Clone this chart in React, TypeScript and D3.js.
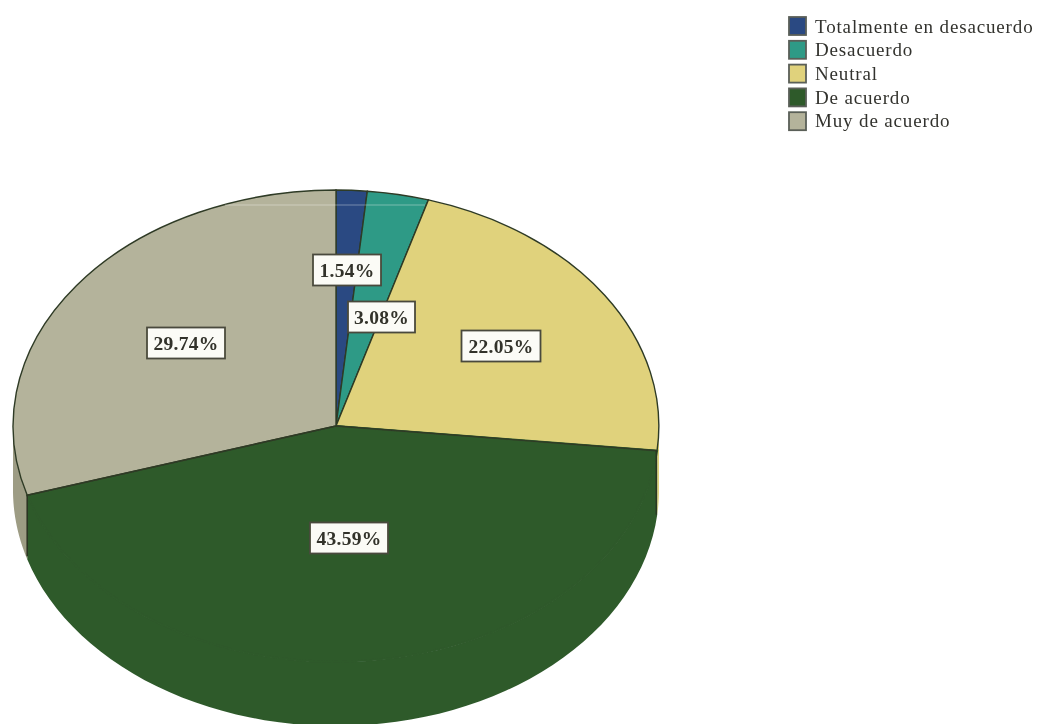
import React from "react";
import * as d3 from "d3";

const categories = ["Totalmente en desacuerdo", "Desacuerdo", "Neutral", "De acuerdo", "Muy de acuerdo"];
const percentages = [1.54, 3.08, 22.05, 43.59, 29.74];
const colors = ["#2c4a82", "#2f9a86", "#e0d27c", "#2f5a2c", "#b4b39b"];
const wallColors = ["#2c4a82", "#2f9a86", "#e0d27c", "#2f5a2c", "#9d9c84"];
const labelCenters: [number, number][] = [[347, 270], [381.5, 317], [501, 346], [349, 538], [186, 343]];
const labelWidths = [68, 67, 79, 78, 78];

const W = 1050, H = 724;
const cx = 336, cy = 426, rx = 323, ry = 236, depth = 64;
const FONT = "'Liberation Serif', 'DejaVu Serif', serif";

const pieGen = d3.pie<number>().sort(null).value((d) => d);
const arcs = pieGen(percentages);
const unitArc = d3.arc<any>().innerRadius(0).outerRadius(1);

const sx = d3.scaleLinear().domain([-1, 1]).range([cx - rx, cx + rx]);
const sy = d3.scaleLinear().domain([-1, 1]).range([cy - ry, cy + ry]);
const px = (a: number) => sx(Math.sin(a));
const py = (a: number) => sy(-Math.cos(a));

function wallPath(a0: number, a1: number) {
  const lo = Math.max(a0, Math.PI / 2);
  const hi = Math.min(a1, (3 * Math.PI) / 2);
  if (hi <= lo) return "";
  const angles = d3.range(0, 61).map((i) => lo + ((hi - lo) * i) / 60);
  const top = angles.map((a) => [px(a), py(a)] as [number, number]);
  const bottom = angles.slice().reverse().map((a) => [px(a), py(a) + depth] as [number, number]);
  return d3.line()([...top, ...bottom]) + "Z";
}

export default function App() {
  const greenStart = arcs[3].startAngle;
  const boundary = arcs[4].startAngle;
  return (
    <svg width={W} height={H} style={{ position: "absolute", left: 0, top: 0, background: "#fff" }}>
      <defs>
        <filter id="soft" x="-2%" y="-2%" width="104%" height="104%">
          <feGaussianBlur stdDeviation="0.55" />
        </filter>
      </defs>
      <g filter="url(#soft)">
        {arcs.map((a, i) => (
          <path key={"w" + i} d={wallPath(a.startAngle, a.endAngle)} fill={wallColors[i]} />
        ))}
        <g transform={`translate(${cx},${cy}) scale(${rx},${ry})`}>
          {arcs.map((a, i) => (
            <path
              key={i}
              d={unitArc(a) as string}
              fill={colors[i]}
              stroke={i === 3 ? colors[3] : "#2e3a25"}
              strokeWidth={i === 3 ? 2 : 1.4}
              vectorEffect="non-scaling-stroke"
            />
          ))}
        </g>
        <line x1={cx} y1={cy} x2={px(greenStart)} y2={py(greenStart)} stroke="#2e3a25" strokeWidth={1.4} />
        <line x1={cx} y1={cy} x2={px(boundary)} y2={py(boundary)} stroke="#2e3a25" strokeWidth={1.4} />
        <line x1={px(boundary)} y1={py(boundary)} x2={px(boundary)} y2={py(boundary) + depth - 3} stroke="#2b3524" strokeWidth={1.6} />
        <line x1={px(greenStart) - 1} y1={py(greenStart)} x2={px(greenStart) - 1} y2={py(greenStart) + depth} stroke="#2b3524" strokeWidth={1.4} />
        <line x1={225} y1={205} x2={425} y2={205} stroke="#fff" strokeOpacity={0.35} strokeWidth={1} />
        {arcs.map((a, i) => {
          const [lx, ly] = labelCenters[i];
          const bw = labelWidths[i];
          return (
            <g key={"l" + i}>
              <rect x={lx - bw / 2} y={ly - 15.5} width={bw} height={31} fill="#fbfbf6" stroke="#4a4a3c" strokeWidth={1.8} />
              <text x={lx} y={ly + 6.5} textAnchor="middle" fontFamily={FONT} fontWeight="bold" fontSize={19.5} letterSpacing={0.3} fill="#33332b">
                {percentages[i].toFixed(2)}%
              </text>
            </g>
          );
        })}
        {categories.map((c, i) => (
          <g key={c}>
            <rect x={789} y={17 + i * 23.8} width={17} height={18} fill={colors[i]} stroke="#5a5f58" strokeWidth={1.8} />
            <text x={815} y={32.5 + i * 23.7} fontFamily={FONT} fontSize={19} fill="#33332e" letterSpacing={0.85}>
              {c}
            </text>
          </g>
        ))}
      </g>
    </svg>
  );
}
